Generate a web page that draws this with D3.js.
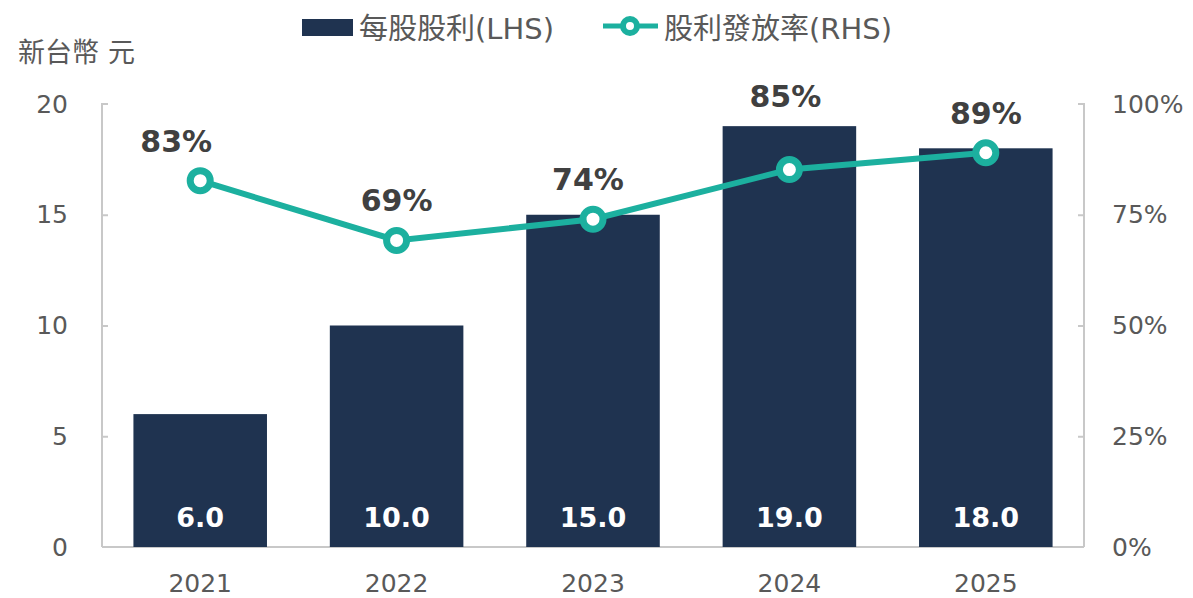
<!DOCTYPE html>
<html lang="en">
<head>
<meta charset="utf-8" />
<title>每股股利</title>
<script src="https://d3js.org/d3.v7.min.js"></script>
<style>
    body { margin: 0; background: #fff; }
    text { font-family: "DejaVu Sans", Verdana, sans-serif; }
    .cjk { font-family: "DejaVu Sans", "Noto Sans CJK TC", sans-serif; }
</style>
</head>
<body>
<div id="chart"></div>
<script>
    var years = ["2021", "2022", "2023", "2024", "2025"];
    var dividend = [6.0, 10.0, 15.0, 19.0, 18.0];
    var payout = [82.7, 69.2, 74.0, 85.2, 89.0];
    var payoutLabels = ["83%", "69%", "74%", "85%", "89%"];
    var leftTicks = [0, 5, 10, 15, 20];
    var rightTicks = [0, 25, 50, 75, 100];

    var width = 1193, height = 598;
    var plotLeft = 102, plotRight = 1084, plotTop = 104, plotBottom = 547;
    var barColor = "#1f3350", lineColor = "#1cb09f", axisColor = "#c8c8c8", textColor = "#595959";
    // small horizontal nudges for the % labels
    var labelDx = [-24, 0, -5, -4, 0];

    var svg = d3.select("#chart").append("svg")
        .attr("width", width)
        .attr("height", height);

    var x = d3.scaleBand().domain(years).range([plotLeft, plotRight]).paddingInner(0.32).paddingOuter(0.16);
    var y = d3.scaleLinear().domain([0, 20]).range([plotBottom, plotTop]);
    var y2 = d3.scaleLinear().domain([0, 100]).range([plotBottom, plotTop]);

    // axes
    var gl = svg.append("g").attr("transform", "translate(" + plotLeft + ",0)")
        .call(d3.axisLeft(y).tickValues(leftTicks).tickSize(-6).tickPadding(34));
    var gr = svg.append("g").attr("transform", "translate(" + plotRight + ",0)")
        .call(d3.axisRight(y2).tickValues(rightTicks).tickSize(-6).tickPadding(28)
            .tickFormat(function (d) { return d + "%"; }));
    var gb = svg.append("g").attr("transform", "translate(0," + plotBottom + ")")
        .call(d3.axisBottom(x).tickSize(0).tickPadding(27));

    [gl, gr, gb].forEach(function (g) {
        g.selectAll("path").attr("stroke", axisColor).attr("stroke-width", 2);
        g.selectAll("line").attr("stroke", axisColor).attr("stroke-width", 2);
        g.selectAll("text").attr("fill", textColor).style("font-size", "25px")
            .style("font-family", "'DejaVu Sans', sans-serif");
    });
    gl.select("path").attr("d", "M6," + plotTop + "H0V" + plotBottom);
    gr.select("path").attr("d", "M-6," + plotTop + "H0V" + plotBottom);
    gb.select("path").attr("d", "M" + plotLeft + ",0H" + plotRight);
    gl.selectAll(".tick").filter(function (d) { return d === 20 || d === 0; }).select("line").remove();
    gr.selectAll(".tick").filter(function (d) { return d === 100 || d === 0; }).select("line").remove();

    // bars
    svg.append("g").selectAll("rect").data(dividend).enter().append("rect")
        .attr("x", function (d, i) { return x(years[i]); })
        .attr("width", x.bandwidth())
        .attr("y", function (d) { return y(d); })
        .attr("height", function (d) { return y(0) - y(d); })
        .attr("fill", barColor);

    svg.append("g").selectAll("text").data(dividend).enter().append("text")
        .attr("x", function (d, i) { return x(years[i]) + x.bandwidth() / 2; })
        .attr("y", plotBottom - 20)
        .attr("text-anchor", "middle")
        .attr("fill", "#fff")
        .style("font-size", "27px").style("font-weight", "bold")
        .text(function (d) { return d.toFixed(1); });

    // line
    var cx = function (d, i) { return x(years[i]) + x.bandwidth() / 2; };
    var line = d3.line().x(cx).y(function (d) { return y2(d); });
    svg.append("path").datum(payout)
        .attr("d", line)
        .attr("fill", "none")
        .attr("stroke", lineColor)
        .attr("stroke-width", 6);

    svg.append("g").selectAll("circle").data(payout).enter().append("circle")
        .attr("cx", cx)
        .attr("cy", function (d) { return y2(d); })
        .attr("r", 10)
        .attr("fill", "#fff")
        .attr("stroke", lineColor)
        .attr("stroke-width", 7);

    // % labels sit above the point, or above the bar if the bar is higher
    svg.append("g").selectAll("text").data(payout).enter().append("text")
        .attr("x", function (d, i) { return cx(d, i) + labelDx[i]; })
        .attr("y", function (d, i) { return Math.min(y2(d) - 29, y(dividend[i]) - 19); })
        .attr("text-anchor", "middle")
        .attr("fill", "#404040")
        .style("font-size", "30px").style("font-weight", "bold")
        .text(function (d, i) { return payoutLabels[i]; });

    // y axis title
    var yt = svg.append("text").attr("class", "cjk")
        .attr("x", 18).attr("y", 62)
        .attr("fill", textColor)
        .style("font-size", "27px");
    yt.append("tspan").text("新台幣");
    yt.append("tspan").attr("dx", 9).text("元");

    // legend
    var lg = svg.append("g");
    lg.append("rect").attr("x", 302).attr("y", 19).attr("width", 51).attr("height", 17).attr("fill", barColor);
    lg.append("text").attr("class", "cjk").attr("x", 359).attr("y", 39)
        .attr("fill", textColor).style("font-size", "29px").text("每股股利(LHS)");
    lg.append("line").attr("x1", 603).attr("x2", 658).attr("y1", 26).attr("y2", 26)
        .attr("stroke", lineColor).attr("stroke-width", 5);
    lg.append("circle").attr("cx", 630).attr("cy", 26).attr("r", 7)
        .attr("fill", "#fff").attr("stroke", lineColor).attr("stroke-width", 6);
    lg.append("text").attr("class", "cjk").attr("x", 664).attr("y", 39)
        .attr("fill", textColor).style("font-size", "29px").text("股利發放率(RHS)");
</script>
</body>
</html>
